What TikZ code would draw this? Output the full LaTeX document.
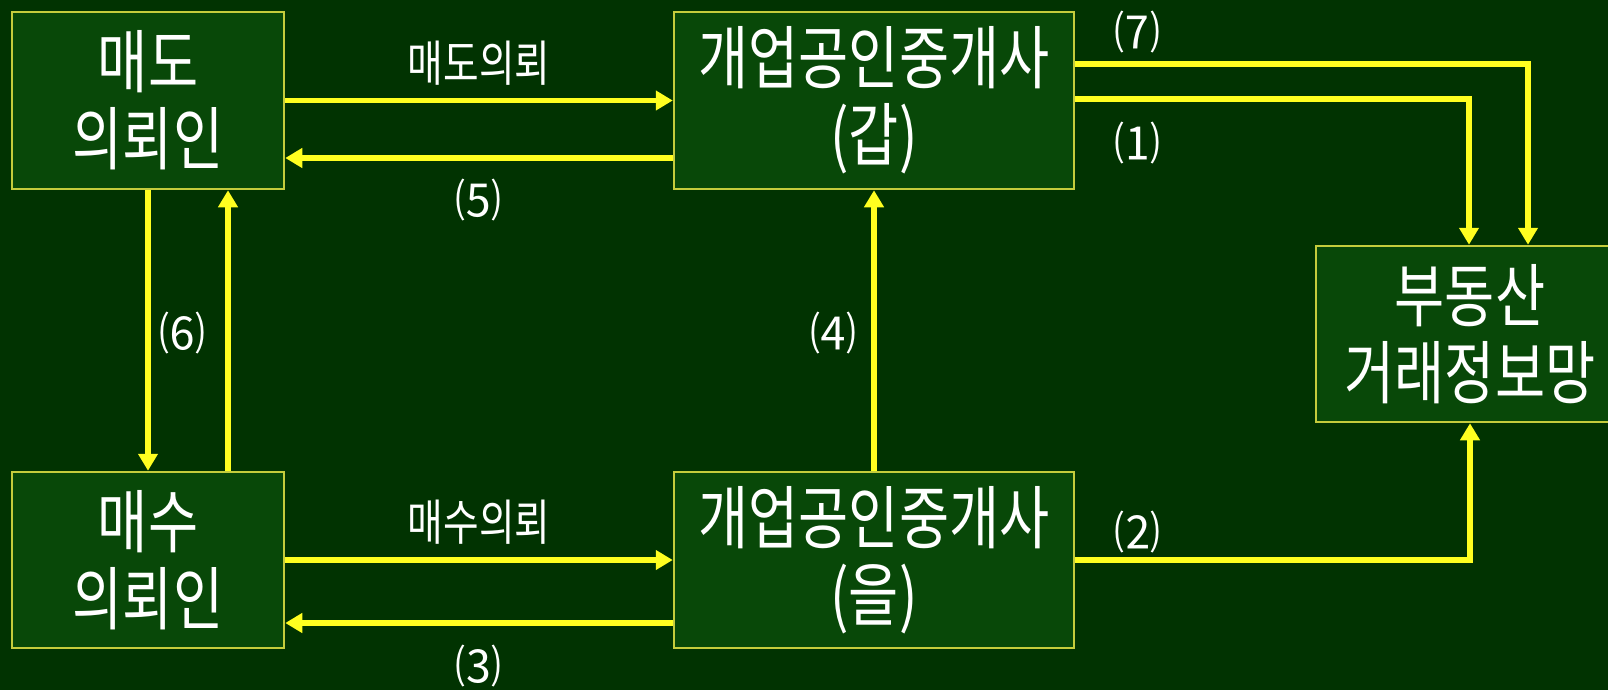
\documentclass[tikz,border=0pt]{standalone}
\usepackage{fontspec}
\newfontfamily\kr[FakeStretch=0.79]{Noto Sans CJK KR}
\newfontfamily\krn{Noto Sans CJK KR}
\usetikzlibrary{arrows.meta}
\definecolor{bg}{RGB}{1,51,1}
\definecolor{boxfill}{RGB}{8,72,8}
\definecolor{boxline}{RGB}{196,204,60}
\definecolor{arrowc}{RGB}{255,255,32}
\begin{document}
\begin{tikzpicture}[x=1pt,y=-1pt,
 box/.style={draw=boxline, line width=2.5pt, fill=boxfill, text=white, align=center, inner sep=0pt, font=\kr\fontsize{69}{77}\selectfont},
 lbl/.style={text=white, inner sep=0pt, font=\kr\fontsize{49}{52}\selectfont},
 num/.style={text=white, inner sep=0pt, font=\krn\fontsize{46}{50}\selectfont},
 arr/.style={draw=arrowc, line width=5.5pt, line join=miter, -{Triangle[length=17pt,width=19pt]}}]
\fill[bg] (0,0) rectangle (1608,690);
\useasboundingbox (0,0) rectangle (1608,690);
\clip (0,0) rectangle (1608,690);

\node[box, minimum width=272pt, minimum height=177pt] (A) at (148,100.5) {매도\\의뢰인};
\node[box, minimum width=400pt, minimum height=177pt] (B) at (874,100.5) {개업공인중개사\\(갑)};
\node[box, minimum width=272pt, minimum height=176pt] (C) at (148,560) {매수\\의뢰인};
\node[box, minimum width=400pt, minimum height=176pt] (D) at (874,560) {개업공인중개사\\(을)};
\node[box, minimum width=308pt, minimum height=176pt] (E) at (1470,334) {부동산\\거래정보망};

\draw[arr] (A.east) -- (B.west);
\draw[arr] ([yshift=-57.5pt]B.west) -- ([yshift=-57.5pt]A.east);
\draw[arr] (C.east) -- (D.west);
\draw[arr] ([yshift=-63pt]D.west) -- ([yshift=-63pt]C.east);
\draw[arr] (A.south) -- (C.north);
\draw[arr] ([xshift=80pt]C.north) -- ([xshift=80pt]A.south);
\draw[arr] (D.north) -- (B.south);
\draw[arr] ([yshift=36.5pt]B.east) -| ([xshift=58pt]E.north);
\draw[arr] ([yshift=1.5pt]B.east) -| ([xshift=-1pt]E.north);
\draw[arr] (D.east) -| (E.south);

\node[lbl] (l1) at (479,63) {매도의뢰};
\node[lbl] (l2) at (479,522) {매수의뢰};
\node[num] (n7) at (1137,32) {⑺};
\node[num] (n1) at (1137,143) {⑴};
\node[num] (n5) at (478,200) {⑸};
\node[num] (n6) at (182,333) {⑹};
\node[num] (n4) at (833,333) {⑷};
\node[num] (n2) at (1137,532) {⑵};
\node[num] (n3) at (478,666) {⑶};
\end{tikzpicture}
\end{document}
